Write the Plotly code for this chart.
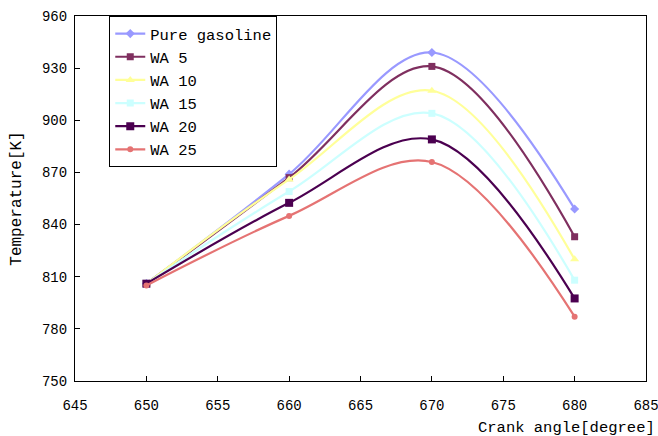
import plotly.graph_objects as go

crank_angle = [650, 660, 670, 680]
series_names = ["Pure gasoline", "WA 5", "WA 10", "WA 15", "WA 20", "WA 25"]
pure_gasoline = [806, 869, 939, 849]
wa_5 = [806, 867, 931, 833]
wa_10 = [806, 866, 917, 820]
wa_15 = [806, 859, 904, 808]
wa_20 = [806, 852.5, 889, 797.5]
wa_25 = [805, 845, 876, 787]
series_values = [pure_gasoline, wa_5, wa_10, wa_15, wa_20, wa_25]

colors = ["#9999FF", "#7F2F5F", "#FFFF99", "#CCFFFF", "#4B0050", "#E57373"]
symbols = ["diamond", "square", "triangle-up", "square", "square", "circle"]
msizes = [7, 7, 8, 7, 8, 6]

FONT = "Liberation Mono"
FS = 15.5
TFS = 14

fig = go.Figure()
for name, vals, c, s, ms in zip(series_names, series_values, colors, symbols, msizes):
    fig.add_trace(go.Scatter(
        x=crank_angle, y=vals, name=name, mode="lines+markers",
        line=dict(color=c, width=2.2, shape="spline", smoothing=1),
        marker=dict(color=c, symbol=s, size=ms),
    ))

fig.update_layout(
    width=658, height=436,
    margin=dict(l=75, r=12, t=16, b=55, autoexpand=False),
    paper_bgcolor="white", plot_bgcolor="white",
    font=dict(family=FONT, size=FS, color="black"),
    showlegend=True,
    legend=dict(
        x=0.06, y=1.0, xanchor="left", yanchor="top",
        bgcolor="white", bordercolor="black", borderwidth=1,
        font=dict(family=FONT, size=FS, color="black"),
        tracegroupgap=0, itemwidth=30,
    ),
    xaxis=dict(
        range=[645, 685], tickmode="linear", tick0=645, dtick=5,
        showgrid=False, zeroline=False, automargin=False,
        showline=True, linecolor="black", linewidth=1, mirror=True,
        ticks="inside", ticklen=5, tickcolor="black",
        ticklabelstandoff=11, ticklabeloverflow="allow",
        tickfont=dict(family=FONT, size=TFS, color="black"),
    ),
    yaxis=dict(
        range=[750, 960], tickmode="linear", tick0=750, dtick=30,
        showgrid=False, zeroline=False, automargin=False,
        showline=True, linecolor="black", linewidth=1, mirror=True,
        ticks="inside", ticklen=5, tickcolor="black",
        ticklabelstandoff=4, ticklabeloverflow="allow",
        tickfont=dict(family=FONT, size=TFS, color="black"),
        title=dict(text="Temperature[K]", font=dict(family=FONT, size=16, color="black"), standoff=16),
    ),
    annotations=[dict(
        text="Crank angle[degree]", xref="paper", yref="paper",
        x=1.0, y=0, xanchor="right", yanchor="top", yshift=-36, xshift=11, showarrow=False,
        font=dict(family=FONT, size=FS, color="black"),
    )],
)

fig.write_html("out.html")
